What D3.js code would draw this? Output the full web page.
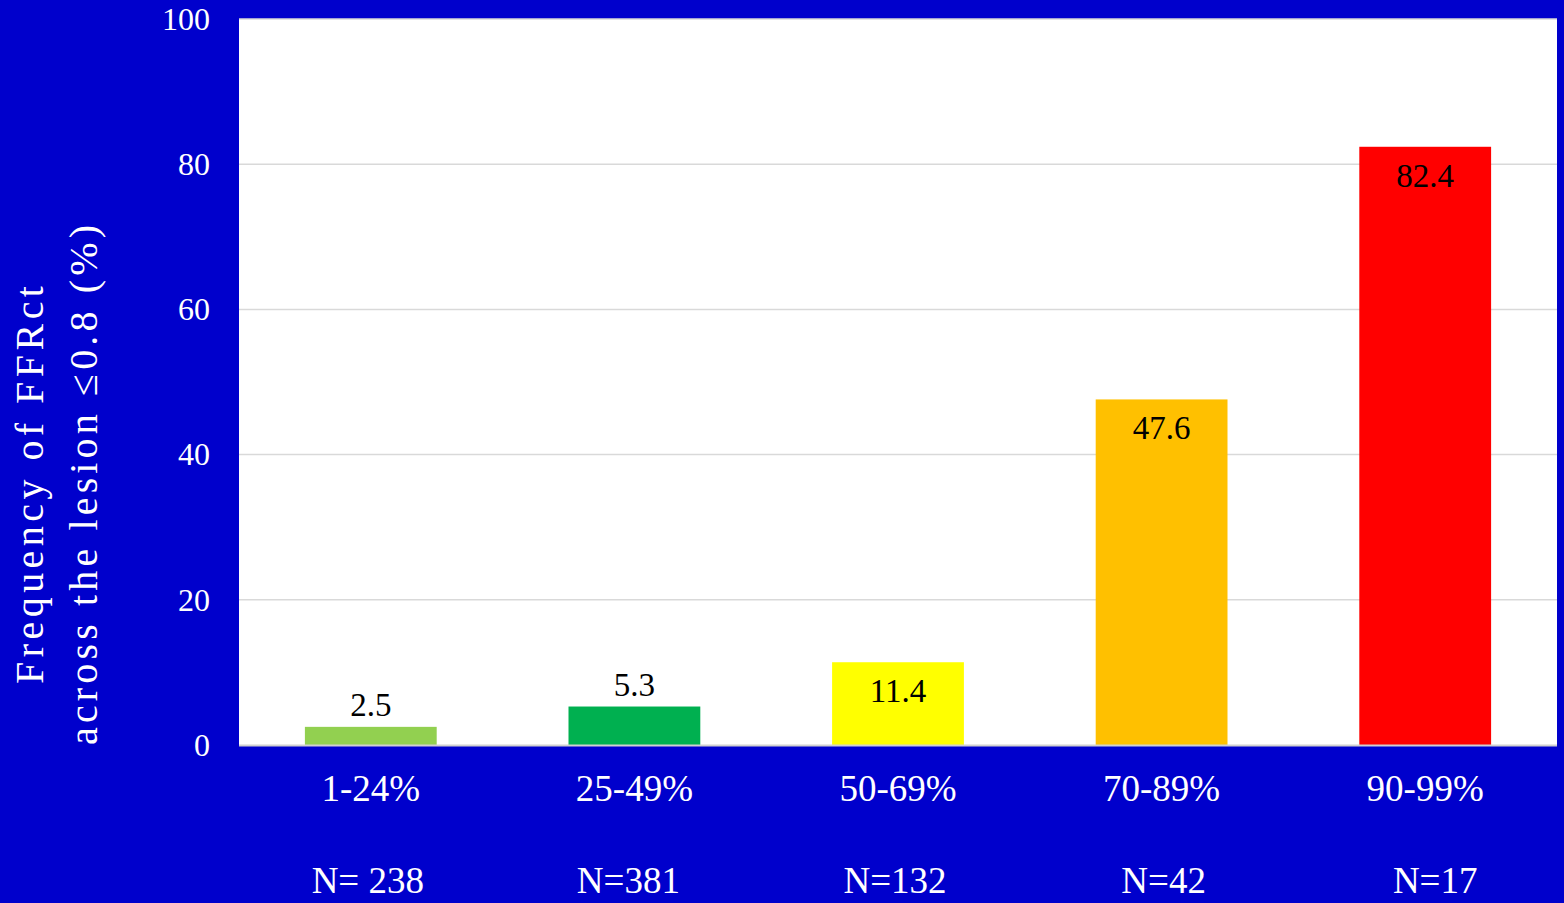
<!DOCTYPE html>
<html>
<head>
<meta charset="utf-8">
<script src="https://cdn.jsdelivr.net/npm/d3@7"></script>
<style>
  html, body { margin: 0; padding: 0; background: #0000cc; }
  svg { display: block; font-family: "Liberation Serif", "Times New Roman", serif; }
</style>
</head>
<body>
<svg id="chart"></svg>
<script>
// data
const categories = ["1-24%", "25-49%", "50-69%", "70-89%", "90-99%"];
const counts = ["N= 238", "N=381", "N=132", "N=42", "N=17"];
const values = [2.5, 5.3, 11.4, 47.6, 82.4];
const barColors = ["#92d050", "#00b050", "#ffff00", "#ffc000", "#ff0000"];
const yTicks = [0, 20, 40, 60, 80, 100];

const svgWidth = 1564;
const svgHeight = 903;
const plot = { left: 239, right: 1557, top: 19, bottom: 745 };

let svg = d3.select("#chart")
    .attr("width", svgWidth)
    .attr("height", svgHeight);

svg.append("rect")
    .attr("width", svgWidth)
    .attr("height", svgHeight)
    .attr("fill", "#0000cc");

let scaleX = d3.scaleBand()
    .domain(categories)
    .range([plot.left, plot.right])
    .paddingInner(0.5)
    .paddingOuter(0.25);

let scaleY = d3.scaleLinear()
    .domain([0, 100])
    .range([plot.bottom, plot.top]);

// white plot area
svg.append("rect")
    .attr("x", plot.left)
    .attr("y", plot.top)
    .attr("width", plot.right - plot.left)
    .attr("height", plot.bottom - plot.top)
    .attr("fill", "#ffffff");

// gridlines
svg.append("g")
    .selectAll("line")
    .data(yTicks.filter(d => d > 0))
    .enter()
    .append("line")
    .attr("x1", plot.left)
    .attr("x2", plot.right)
    .attr("y1", d => scaleY(d))
    .attr("y2", d => scaleY(d))
    .attr("stroke", "#d9d9d9")
    .attr("stroke-width", 1.5);

// y axis labels
let yAxis = svg.append("g")
    .attr("transform", "translate(" + plot.left + ",0)")
    .call(d3.axisLeft(scaleY).tickValues(yTicks).tickSize(0).tickPadding(29));
yAxis.select(".domain").remove();
yAxis.selectAll("text")
    .attr("fill", "#ffffff")
    .attr("font-size", 32)
    .attr("font-family", "Liberation Serif, serif");

// bars
svg.append("g")
    .selectAll("rect")
    .data(values)
    .enter()
    .append("rect")
    .attr("x", (d, i) => scaleX(categories[i]))
    .attr("y", d => scaleY(d))
    .attr("width", scaleX.bandwidth())
    .attr("height", d => scaleY(0) - scaleY(d))
    .attr("fill", (d, i) => barColors[i]);

// zero line
svg.append("line")
    .attr("x1", plot.left)
    .attr("x2", plot.right)
    .attr("y1", scaleY(0) + 0.5)
    .attr("y2", scaleY(0) + 0.5)
    .attr("stroke", "#d0d0d0")
    .attr("stroke-width", 2);

// value labels: inside end for tall bars, above for short ones
svg.append("g")
    .selectAll("text")
    .data(values)
    .enter()
    .append("text")
    .attr("x", (d, i) => scaleX(categories[i]) + scaleX.bandwidth() / 2)
    .attr("y", function (d) {
        let top = scaleY(d);
        return (scaleY(0) - top) > 60 ? top + 40 : top - 11;
    })
    .attr("text-anchor", "middle")
    .attr("font-size", 33)
    .attr("fill", "#000000")
    .text(d => d.toFixed(1));

// category labels
let xAxis = svg.append("g")
    .attr("transform", "translate(0," + plot.bottom + ")")
    .call(d3.axisBottom(scaleX).tickSize(0).tickPadding(0));
xAxis.select(".domain").remove();
xAxis.selectAll("text")
    .attr("dy", null)
    .attr("y", 56)
    .attr("fill", "#ffffff")
    .attr("font-size", 37)
    .attr("font-family", "Liberation Serif, serif");

svg.append("g")
    .selectAll("text")
    .data(counts)
    .enter()
    .append("text")
    .attr("x", (d, i) => scaleX(categories[i]) + scaleX.bandwidth() / 2 + [-3, -6, -3, 2, 10][i])
    .attr("y", 893)
    .attr("text-anchor", "middle")
    .attr("font-size", 37)
    .attr("fill", "#ffffff")
    .text(d => d);

// y axis title, two lines
let title = svg.append("g")
    .attr("transform", "translate(0,485) rotate(-90)");
title.append("text")
    .attr("x", 0)
    .attr("y", 43)
    .attr("text-anchor", "middle")
    .attr("font-size", 40)
    .attr("fill", "#ffffff")
    .attr("textLength", 398)
    .attr("lengthAdjust", "spacing")
    .text("Frequency of FFRct");
title.append("text")
    .attr("x", 0)
    .attr("y", 97)
    .attr("text-anchor", "middle")
    .attr("font-size", 40)
    .attr("fill", "#ffffff")
    .attr("textLength", 520)
    .attr("lengthAdjust", "spacing")
    .text("across the lesion \u22640.8 (%)");
</script>
</body>
</html>
